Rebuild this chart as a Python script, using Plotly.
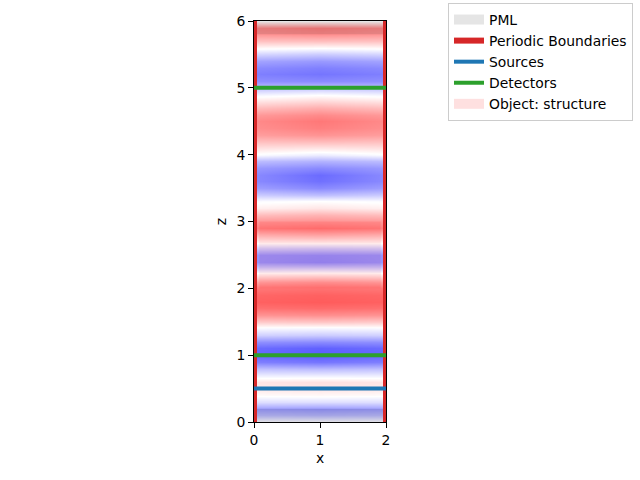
import plotly.graph_objects as go

x_grid = [0, 1, 2]
z_grid = [i / 10 for i in range(61)]
field_mid = [0.0, -0.28, -0.40, -0.13, 0.03, 0.10, 0.12, -0.08, -0.26, -0.54, -0.64, -0.62, -0.46, -0.20, -0.03, 0.22, 0.44,
             0.58, 0.64, 0.62, 0.55, 0.40, 0.10, -0.20, -0.46, -0.44, -0.20, 0.05, 0.30, 0.54, 0.44, 0.30, 0.10, 0.0,
             -0.25, -0.46, -0.56, -0.58, -0.46, -0.30, -0.08, 0.10, 0.28, 0.42, 0.50, 0.53, 0.46, 0.32, 0.15, 0.0,
             -0.22, -0.46, -0.54, -0.50, -0.40, -0.20, 0.0, 0.25, 0.45, 0.50, 0.0]
field_edge = [0.0, -0.26, -0.38, -0.13, 0.02, 0.09, 0.10, -0.08, -0.24, -0.50, -0.60, -0.58, -0.44, -0.18, -0.02, 0.20, 0.42,
              0.56, 0.62, 0.60, 0.53, 0.36, 0.08, -0.20, -0.42, -0.42, -0.18, 0.04, 0.26, 0.50, 0.42, 0.26, 0.06, -0.02,
              -0.20, -0.38, -0.46, -0.46, -0.40, -0.26, -0.02, 0.12, 0.26, 0.38, 0.44, 0.46, 0.40, 0.26, 0.10, -0.04,
              -0.24, -0.44, -0.50, -0.46, -0.36, -0.16, 0.02, 0.24, 0.42, 0.46, 0.0]
x_span = [0, 2]
pml_z_low = [0, 0.2]
pml_z_high = [5.8, 6]
source_z = 0.5
detector_z = [1, 5]
structure_x = [0.08, 1.92]
structure_z = [2, 3]

FONT = "DejaVu Sans"
RED, BLUE, GREEN = "#d62728", "#1f77b4", "#2ca02c"

field = [[e, m, e] for e, m in zip(field_edge, field_mid)]


def rect(xs, zs, color, name):
    return go.Scatter(
        x=[xs[0], xs[1], xs[1], xs[0], xs[0]], y=[zs[0], zs[0], zs[1], zs[1], zs[0]],
        mode="lines", fill="toself", fillcolor=color, line=dict(width=0, color=color),
        name=name, showlegend=False, legendgroup=name, hoverinfo="skip",
    )


def line(xs, zs, color, name, show, width=4):
    return go.Scatter(
        x=xs, y=zs, mode="lines", line=dict(color=color, width=width),
        name=name, showlegend=show, legendgroup=name, hoverinfo="skip",
    )


fig = go.Figure()
fig.add_trace(go.Heatmap(
    x=x_grid, y=z_grid, z=field, zmin=-1, zmax=1, zsmooth="best", showscale=False,
    colorscale=[[0, "#0000ff"], [0.5, "#ffffff"], [1, "#ff0000"]],
))
fig.add_trace(line([None], [None], "#e5e5e5", "PML", True, 10))
fig.add_trace(rect(x_span, pml_z_low, "rgba(0,0,0,0.1)", "PML"))
fig.add_trace(rect(x_span, pml_z_high, "rgba(0,0,0,0.1)", "PML"))
fig.add_trace(line([x_span[0]] * 2, [0, 6], RED, "Periodic Boundaries", True, 6))
fig.add_trace(line([x_span[1]] * 2, [0, 6], RED, "Periodic Boundaries", False, 6))
fig.add_trace(line(x_span, [source_z] * 2, BLUE, "Sources", True))
fig.add_trace(line(x_span, [detector_z[0]] * 2, GREEN, "Detectors", True))
fig.add_trace(line(x_span, [detector_z[1]] * 2, GREEN, "Detectors", False))
fig.add_trace(line([None], [None], "#fee0e0", "Object: structure", True, 10))
fig.add_trace(rect(structure_x, structure_z, "rgba(255,0,0,0.08)", "Object: structure"))

axis = dict(showgrid=False, zeroline=False, showline=True, mirror=True, linecolor="black", linewidth=1,
            ticks="outside", ticklen=5, tickwidth=1, tickcolor="black", automargin=False,
            tickfont=dict(family=FONT, size=13.9, color="black"))
fig.update_layout(
    width=640, height=480, autosize=False,
    margin=dict(l=254, r=254, t=21, b=58),
    paper_bgcolor="white", plot_bgcolor="white",
    font=dict(family=FONT, size=13.9, color="black"),
    xaxis=dict(axis, range=[0, 2], tickvals=[0, 1, 2],
               title=dict(text="x", standoff=6, font=dict(family=FONT, size=13.9))),
    yaxis=dict(axis, range=[0, 6], tickvals=[0, 1, 2, 3, 4, 5, 6],
               title=dict(text="z", standoff=6, font=dict(family=FONT, size=13.9))),
    legend=dict(xref="container", yref="container", x=448 / 640, y=477 / 480, xanchor="left", yanchor="top",
                bgcolor="white", bordercolor="#cccccc", borderwidth=1, font=dict(family=FONT, size=13.9),
                itemclick=False, itemdoubleclick=False, tracegroupgap=0, traceorder="normal"),
)
fig.write_html("out.html", post_script="document.body.style.margin='0';", config={"displayModeBar": False})
